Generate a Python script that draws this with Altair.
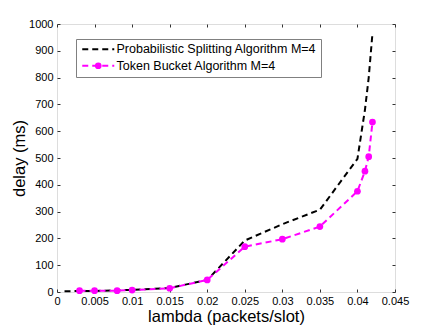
import altair as alt
import pandas as pd

ps_name = "Probabilistic Splitting Algorithm M=4"
tb_name = "Token Bucket Algorithm M=4"

ps_lambda = [0.001, 0.005, 0.01, 0.015, 0.02, 0.025, 0.03, 0.035, 0.04, 0.041, 0.0415, 0.042]
ps_delay = [3, 4, 8, 15, 45, 192, 253, 307, 497, 680, 800, 965]
tb_lambda = [0.003, 0.005, 0.008, 0.01, 0.015, 0.02, 0.025, 0.03, 0.035, 0.04, 0.041, 0.0415, 0.042]
tb_delay = [5, 5, 5, 7, 14, 45, 169, 197, 244, 376, 451, 505, 634]

x_ticks = [0, 0.005, 0.01, 0.015, 0.02, 0.025, 0.03, 0.035, 0.04, 0.045]
y_ticks = [0, 100, 200, 300, 400, 500, 600, 700, 800, 900, 1000]

W, H = 338, 268

ps = pd.DataFrame({"lambda": ps_lambda, "delay": ps_delay, "series": ps_name})
tb = pd.DataFrame({"lambda": tb_lambda, "delay": tb_delay, "series": tb_name, "pt": "tb"})

xs = alt.Scale(domain=[0, 0.045], nice=False, zero=False)
ys = alt.Scale(domain=[0, 1000], nice=False)
cs = alt.Scale(domain=[ps_name, tb_name], range=["#000000", "#ff00ff"])

font = "Liberation Sans"

def tick_axis(orient, offset, values):
    return alt.Axis(orient=orient, offset=offset, values=values, labels=False, title=None,
                    domain=False, grid=False, ticks=True, tickSize=3, tickColor="#333333", tickWidth=1)

main_legend = alt.Legend(title=None, orient="none", legendX=19, legendY=15,
                         symbolType="M-3.2,0H3.2", symbolSize=100, symbolStrokeWidth=2,
                         symbolDash=[6, 4], symbolOffset=12, labelOffset=12,
                         labelFontSize=12.5, labelFont=font, labelColor="black",
                         padding=4, rowPadding=3.5, strokeColor="#808080", fillColor="white",
                         labelLimit=400)

l1 = alt.Chart(ps).mark_line(strokeWidth=2, strokeDash=[6, 4]).encode(
    x=alt.X("lambda:Q", scale=xs, axis=alt.Axis(orient="bottom", values=x_ticks, format="~g",
            title="lambda (packets/slot)", ticks=False, domain=False, grid=False,
            labelOverlap=False, labelFlush=False,
            labelFont=font, labelFontSize=11, labelColor="black", labelPadding=3,
            titleFont=font, titleFontSize=16.5, titleFontWeight="normal", titleColor="black", titlePadding=2)),
    y=alt.Y("delay:Q", scale=ys, axis=alt.Axis(orient="left", values=y_ticks, format="d",
            title="delay (ms)", ticks=False, domain=False, grid=False,
            labelOverlap=False, labelFlush=False,
            labelFont=font, labelFontSize=11, labelColor="black", labelPadding=4,
            titleFont=font, titleFontSize=16.5, titleFontWeight="normal", titleColor="black",
            titleX=-30, titleBaseline="bottom")),
    color=alt.Color("series:N", scale=cs, legend=main_legend),
)

l2 = alt.Chart(tb).mark_line(strokeWidth=2, strokeDash=[6, 4]).encode(
    x=alt.X("lambda:Q", scale=xs, axis=tick_axis("top", -H, x_ticks)),
    y=alt.Y("delay:Q", scale=ys, axis=tick_axis("right", -W, y_ticks)),
    color=alt.Color("series:N", scale=cs, legend=main_legend),
)

l3 = alt.Chart(tb).mark_circle(size=45, opacity=1).encode(
    x=alt.X("lambda:Q", scale=xs, axis=tick_axis("bottom", -H, x_ticks)),
    y=alt.Y("delay:Q", scale=ys, axis=tick_axis("left", -W, y_ticks)),
    fill=alt.Fill("pt:N", scale=alt.Scale(domain=["ps", "tb"], range=["transparent", "#ff00ff"]),
                  legend=alt.Legend(title=None, orient="none", legendX=19, legendY=15,
                                    symbolType="circle", symbolSize=45, symbolStrokeWidth=0,
                                    symbolOffset=12, labelExpr="''", labelFontSize=12.5,
                                    padding=4, rowPadding=3.5)),
)

chart = alt.layer(l1, l2, l3).resolve_axis(x="independent", y="independent").properties(
    width=W, height=H,
    autosize=alt.AutoSizeParams(type="none"),
    padding={"left": 49, "top": 16, "right": 33, "bottom": 36},
).configure_view(stroke="#222222", strokeWidth=1).configure(background="white")

chart.save("out.html", embed_options={"renderer": "svg", "actions": False})
